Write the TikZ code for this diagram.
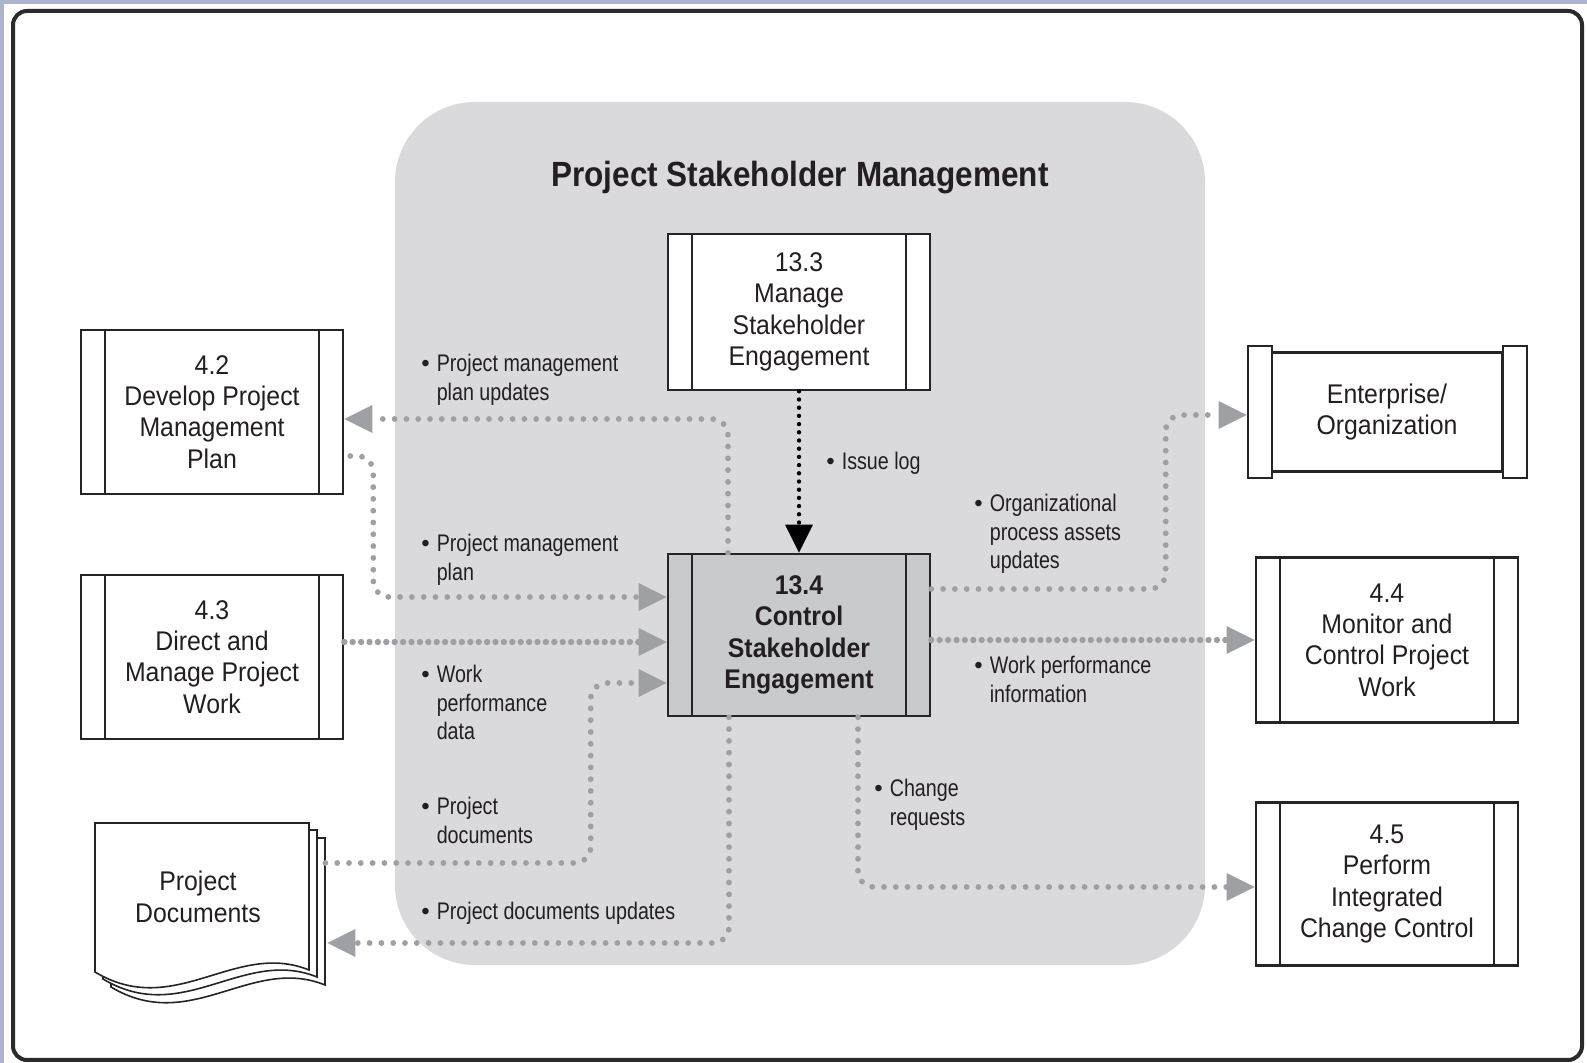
\documentclass[tikz,border=0pt]{standalone}
\usepackage{fontspec}
\setmainfont{Liberation Sans}
\newfontfamily\boxfam[FakeStretch=0.92]{Liberation Sans}
\newfontfamily\condfam[FakeStretch=0.82]{Liberation Sans}
\newfontfamily\titlefam[FakeStretch=0.9]{Liberation Sans}
\usetikzlibrary{arrows.meta,calc}

\definecolor{edgec}{HTML}{AAB4CC}
\definecolor{framec}{HTML}{2B2B2B}
\definecolor{linec}{HTML}{262425}
\definecolor{txtc}{HTML}{231F20}
\definecolor{regc}{HTML}{DADADC}
\definecolor{procc}{HTML}{C9CACC}
\definecolor{dotc}{HTML}{9FA0A4}

\newcommand{\boxfont}{\boxfam\fontsize{13.5}{15.7}\selectfont}
\newcommand{\lblfont}{\condfam\fontsize{12}{14.2}\selectfont}
\newcommand{\titlefont}{\titlefam\bfseries\fontsize{17.5}{20}\selectfont}
\newcommand{\bitem}[1]{\begin{tabular}[t]{@{}l@{\hspace{3.5pt}}l@{}}{\normalfont\fontsize{12}{14.2}\selectfont\textbullet} & #1\end{tabular}}

\tikzset{
  proc/.style={draw=linec, line width=1.3pt, fill=white, minimum width=131pt,
    minimum height=81pt, inner sep=0pt, align=center, font=\boxfont, text=txtc,
    path picture={\draw[linec, line width=1.3pt]
      ([xshift=12pt]path picture bounding box.north west) -- ([xshift=12pt]path picture bounding box.south west)
      ([xshift=-12pt]path picture bounding box.north east) -- ([xshift=-12pt]path picture bounding box.south east);}},
  bar/.style={draw=linec, line width=1.3pt, fill=white, minimum width=12pt,
    minimum height=66pt, inner sep=0pt},
  lbl/.style={anchor=base west, inner sep=0pt, font=\lblfont, text=txtc},
  flow/.style={draw=dotc, line width=2.9pt, line cap=round, dash pattern=on 0pt off 5.9pt,
    rounded corners=8pt, -{Triangle[length=14pt,width=14pt,line width=0pt]}},
  flowd/.style={flow, line width=3.2pt, dash pattern=on 0pt off 4.2pt},
  issue/.style={draw=black, line width=2.2pt, line cap=round, dash pattern=on 0pt off 4.1pt,
    -{Triangle[length=14pt,width=14pt,line width=0pt]}}
}

\begin{document}
\begin{tikzpicture}[x=0.5pt, y=-0.5pt]
  \useasboundingbox (0,0) rectangle (1587,1063);
  \fill[white] (0,0) rectangle (1587,1063);
  \fill[edgec] (0,0) rectangle (1587,4);
  \fill[edgec] (0,0) rectangle (4,1063);
  \draw[framec, line width=2pt, rounded corners=7pt] (13,11) rectangle (1582,1060);

  % process group
  \fill[regc, rounded corners=40pt] (395,102) rectangle (1205,965);
  \node[anchor=base, inner sep=0pt, font=\titlefont, text=txtc] (title) at (800,187) {Project Stakeholder Management};

  \node[proc, minimum height=78pt] (p133) at (799,312) {13.3\\Manage\\Stakeholder\\Engagement};
  \node[proc, fill=procc, font=\boxfont\bfseries] (p134) at (799,635) {13.4\\Control\\Stakeholder\\Engagement};
  \node[proc, minimum height=82pt] (p42) at (212,412) {4.2\\Develop Project\\Management\\Plan};
  \node[proc, minimum height=82pt] (p43) at (212,657) {4.3\\Direct and\\Manage Project\\Work};
  \node[proc, minimum height=82.5pt] (p44) at (1387,640) {4.4\\Monitor and\\Control Project\\Work};
  \node[proc, minimum height=81.5pt] (p45) at (1387,884) {4.5\\Perform\\Integrated\\Change Control};

  \node[bar] (entl) at (1260,412) {};
  \node[bar] (entr) at (1515,412) {};
  \node[draw=linec, line width=1.3pt, fill=white, minimum width=115pt, minimum height=59.5pt,
    inner sep=0pt, align=center, font=\boxfont, text=txtc] (ent) at (1387,412) {Enterprise/\\Organization};

  % stacked documents
  \foreach \dx/\dy in {16/15, 8/7, 0/0} {
    \filldraw[fill=white, draw=linec, line width=0.8pt]
      (95+\dx,823+\dy) -- (309+\dx,823+\dy) -- (309+\dx,970+\dy)
      .. controls (235+\dx,940+\dy) and (175+\dx,1020+\dy) .. (95+\dx,972+\dy) -- cycle;
  }
  \node[inner sep=0pt, minimum width=111pt, minimum height=74.5pt, align=center,
    font=\boxfont, text=txtc] (pd) at (198,897) {Project\\Documents};

  % inputs
  \draw[issue] (p133) -- (p134);
  \draw[flow] ($(p42.east)+(6,44)$) -- ($(p42.east)+(29,44)$) |- ($(p134.west)+(0,-38)$);
  \coordinate (in3) at ($(p134.west)+(0,7)$);
  \draw[flowd] (p43.east |- in3) -- (in3);
  \draw[flow] ($(pd.east)+(16,-34)$) -| ($(p134.west)+(-76,48)$) -- ($(p134.west)+(0,48)$);

  % outputs
  \draw[flow] ($(p134.north)+(-71,0)$) |- ($(p42.east)+(0,7)$);
  \draw[flow] ($(p134.south)+(-70,0)$) |- ($(pd.east)+(18,46)$);
  \draw[flow] ($(p134.east)+(0,-46)$) -| ($(entl.west)+(-81,3)$) -- ($(entl.west)+(0,3)$);
  \draw[flowd] (p134.east |- p44) -- (p44.west);
  \draw[flow] ($(p134.south)+(59,0)$) |- ($(p45.west)+(0,3)$);

  % labels
  \node[lbl] (lpmpu) at (421,372) {\bitem{Project management\\ & plan updates}};
  \node[lbl] (lissue) at (826,470) {\bitem{Issue log}};
  \node[lbl] (lpmp) at (421,552) {\bitem{Project management\\ & plan}};
  \node[lbl] (lopa) at (974,512) {\bitem{Organizational\\ & process assets\\ & updates}};
  \node[lbl] (lwpd) at (421,683) {\bitem{Work\\ & performance\\ & data}};
  \node[lbl] (lwpi) at (974,674) {\bitem{Work performance\\ & information}};
  \node[lbl] (lcr) at (874,797) {\bitem{Change\\ & requests}};
  \node[lbl] (lpd) at (421,815) {\bitem{Project\\ & documents}};
  \node[lbl] (lpdu) at (421,920) {\bitem{Project documents updates}};
\end{tikzpicture}
\end{document}
